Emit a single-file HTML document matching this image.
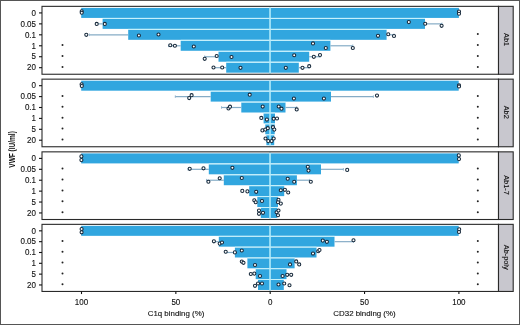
<!DOCTYPE html>
<html><head><meta charset="utf-8"><style>
html,body{margin:0;padding:0;background:#fff;width:520px;height:325px;overflow:hidden}
</style></head><body>
<svg width="520" height="325" viewBox="0 0 520 325" style="display:block;will-change:transform">
<rect x="0" y="0" width="520" height="325" fill="#fff"/>
<rect x="81.20" y="7.92" width="189.00" height="10.0" fill="#31a6df"/>
<rect x="270.20" y="7.92" width="188.70" height="10.0" fill="#31a6df"/>
<rect x="102.60" y="18.87" width="167.60" height="10.0" fill="#31a6df"/>
<rect x="270.20" y="18.87" width="154.80" height="10.0" fill="#31a6df"/>
<rect x="128.20" y="29.82" width="142.00" height="10.0" fill="#31a6df"/>
<rect x="270.20" y="29.82" width="116.40" height="10.0" fill="#31a6df"/>
<rect x="180.70" y="40.78" width="89.50" height="10.0" fill="#31a6df"/>
<rect x="270.20" y="40.78" width="60.20" height="10.0" fill="#31a6df"/>
<rect x="218.50" y="51.73" width="51.70" height="10.0" fill="#31a6df"/>
<rect x="270.20" y="51.73" width="39.00" height="10.0" fill="#31a6df"/>
<rect x="226.20" y="62.68" width="44.00" height="10.0" fill="#31a6df"/>
<rect x="270.20" y="62.68" width="28.60" height="10.0" fill="#31a6df"/>
<rect x="102.60" y="17.92" width="322.40" height="0.95" fill="#c2f1fc"/>
<rect x="128.20" y="28.87" width="258.40" height="0.95" fill="#c2f1fc"/>
<rect x="180.70" y="39.82" width="149.70" height="0.95" fill="#c2f1fc"/>
<rect x="218.50" y="50.78" width="90.70" height="0.95" fill="#c2f1fc"/>
<rect x="226.20" y="61.73" width="72.60" height="0.95" fill="#c2f1fc"/>
<line x1="270.0" y1="6.35" x2="270.0" y2="74.25" stroke="#b4ecfb" stroke-width="1.5"/>
<circle cx="81.70" cy="11.30" r="1.55" fill="#fff" stroke="#15283a" stroke-width="1.05"/>
<circle cx="81.70" cy="12.70" r="1.55" fill="#fff" stroke="#15283a" stroke-width="1.05"/>
<circle cx="459.00" cy="11.60" r="1.55" fill="#fff" stroke="#15283a" stroke-width="1.05"/>
<circle cx="459.00" cy="13.70" r="1.55" fill="#fff" stroke="#15283a" stroke-width="1.05"/>
<line x1="96.70" y1="23.87" x2="102.60" y2="23.87" stroke="#86acc6" stroke-width="1.2"/>
<line x1="96.70" y1="22.57" x2="96.70" y2="25.17" stroke="#86acc6" stroke-width="0.8"/>
<line x1="425.00" y1="23.87" x2="442.00" y2="23.87" stroke="#86acc6" stroke-width="1.2"/>
<line x1="442.00" y1="22.57" x2="442.00" y2="25.17" stroke="#86acc6" stroke-width="0.8"/>
<circle cx="96.70" cy="23.90" r="1.55" fill="#fff" stroke="#15283a" stroke-width="1.05"/>
<circle cx="104.80" cy="23.90" r="1.55" fill="#fff" stroke="#15283a" stroke-width="1.05"/>
<circle cx="408.80" cy="22.10" r="1.55" fill="#fff" stroke="#15283a" stroke-width="1.05"/>
<circle cx="425.20" cy="23.70" r="1.55" fill="#fff" stroke="#15283a" stroke-width="1.05"/>
<circle cx="441.60" cy="25.80" r="1.55" fill="#fff" stroke="#15283a" stroke-width="1.05"/>
<line x1="89.30" y1="34.82" x2="128.20" y2="34.82" stroke="#86acc6" stroke-width="1.2"/>
<line x1="89.30" y1="33.52" x2="89.30" y2="36.12" stroke="#86acc6" stroke-width="0.8"/>
<line x1="386.60" y1="34.82" x2="394.00" y2="34.82" stroke="#86acc6" stroke-width="1.2"/>
<line x1="394.00" y1="33.52" x2="394.00" y2="36.12" stroke="#86acc6" stroke-width="0.8"/>
<circle cx="86.30" cy="34.80" r="1.55" fill="#fff" stroke="#15283a" stroke-width="1.05"/>
<circle cx="138.90" cy="35.50" r="1.55" fill="#fff" stroke="#15283a" stroke-width="1.05"/>
<circle cx="158.50" cy="34.50" r="1.55" fill="#fff" stroke="#15283a" stroke-width="1.05"/>
<circle cx="378.00" cy="35.80" r="1.55" fill="#fff" stroke="#15283a" stroke-width="1.05"/>
<circle cx="388.25" cy="34.25" r="1.55" fill="#fff" stroke="#15283a" stroke-width="1.05"/>
<circle cx="394.00" cy="36.00" r="1.55" fill="#fff" stroke="#15283a" stroke-width="1.05"/>
<line x1="168.50" y1="45.78" x2="180.70" y2="45.78" stroke="#86acc6" stroke-width="1.2"/>
<line x1="168.50" y1="44.48" x2="168.50" y2="47.08" stroke="#86acc6" stroke-width="0.8"/>
<line x1="330.40" y1="45.78" x2="352.80" y2="45.78" stroke="#86acc6" stroke-width="1.2"/>
<line x1="352.80" y1="44.48" x2="352.80" y2="47.08" stroke="#86acc6" stroke-width="0.8"/>
<circle cx="170.30" cy="45.20" r="1.55" fill="#fff" stroke="#15283a" stroke-width="1.05"/>
<circle cx="174.90" cy="45.70" r="1.55" fill="#fff" stroke="#15283a" stroke-width="1.05"/>
<circle cx="193.80" cy="46.50" r="1.55" fill="#fff" stroke="#15283a" stroke-width="1.05"/>
<circle cx="313.00" cy="43.40" r="1.55" fill="#fff" stroke="#15283a" stroke-width="1.05"/>
<circle cx="325.80" cy="48.00" r="1.55" fill="#fff" stroke="#15283a" stroke-width="1.05"/>
<circle cx="352.80" cy="48.00" r="1.55" fill="#fff" stroke="#15283a" stroke-width="1.05"/>
<line x1="204.70" y1="56.73" x2="218.50" y2="56.73" stroke="#86acc6" stroke-width="1.2"/>
<line x1="204.70" y1="55.43" x2="204.70" y2="58.03" stroke="#86acc6" stroke-width="0.8"/>
<line x1="309.20" y1="56.73" x2="320.00" y2="56.73" stroke="#86acc6" stroke-width="1.2"/>
<line x1="320.00" y1="55.43" x2="320.00" y2="58.03" stroke="#86acc6" stroke-width="0.8"/>
<circle cx="204.70" cy="58.80" r="1.55" fill="#fff" stroke="#15283a" stroke-width="1.05"/>
<circle cx="216.70" cy="56.00" r="1.55" fill="#fff" stroke="#15283a" stroke-width="1.05"/>
<circle cx="231.50" cy="57.00" r="1.55" fill="#fff" stroke="#15283a" stroke-width="1.05"/>
<circle cx="294.20" cy="55.20" r="1.55" fill="#fff" stroke="#15283a" stroke-width="1.05"/>
<circle cx="313.80" cy="56.80" r="1.55" fill="#fff" stroke="#15283a" stroke-width="1.05"/>
<circle cx="320.00" cy="55.00" r="1.55" fill="#fff" stroke="#15283a" stroke-width="1.05"/>
<line x1="213.50" y1="67.68" x2="226.20" y2="67.68" stroke="#86acc6" stroke-width="1.2"/>
<line x1="213.50" y1="66.38" x2="213.50" y2="68.98" stroke="#86acc6" stroke-width="0.8"/>
<line x1="298.80" y1="67.68" x2="309.00" y2="67.68" stroke="#86acc6" stroke-width="1.2"/>
<line x1="309.00" y1="66.38" x2="309.00" y2="68.98" stroke="#86acc6" stroke-width="0.8"/>
<circle cx="213.50" cy="67.50" r="1.55" fill="#fff" stroke="#15283a" stroke-width="1.05"/>
<circle cx="222.20" cy="67.50" r="1.55" fill="#fff" stroke="#15283a" stroke-width="1.05"/>
<circle cx="240.50" cy="67.80" r="1.55" fill="#fff" stroke="#15283a" stroke-width="1.05"/>
<circle cx="285.80" cy="67.80" r="1.55" fill="#fff" stroke="#15283a" stroke-width="1.05"/>
<circle cx="302.50" cy="67.80" r="1.55" fill="#fff" stroke="#15283a" stroke-width="1.05"/>
<circle cx="309.20" cy="66.20" r="1.55" fill="#fff" stroke="#15283a" stroke-width="1.05"/>
<circle cx="62.5" cy="45.08" r="1.0" fill="#222"/>
<circle cx="62.5" cy="56.03" r="1.0" fill="#222"/>
<circle cx="62.5" cy="66.98" r="1.0" fill="#222"/>
<circle cx="477.8" cy="34.12" r="1.0" fill="#222"/>
<circle cx="477.8" cy="45.08" r="1.0" fill="#222"/>
<circle cx="477.8" cy="56.03" r="1.0" fill="#222"/>
<circle cx="477.8" cy="66.98" r="1.0" fill="#222"/>
<rect x="42.0" y="6.35" width="456.5" height="67.90" fill="none" stroke="#2a2a2a" stroke-width="1.1"/>
<rect x="498.5" y="6.35" width="14.70" height="67.90" fill="#c8c7ce" stroke="#2a2a2a" stroke-width="1.1"/>
<text x="0" y="0" transform="translate(503.6 39.60) rotate(90) scale(0.93 1)" text-anchor="middle" font-size="7.9" fill="#111" stroke="#111" stroke-width="0.12" font-family="Liberation Sans, sans-serif">Ab1</text>
<line x1="39" y1="12.92" x2="42.0" y2="12.92" stroke="#111" stroke-width="1.1"/>
<text x="0" y="0" transform="translate(36 15.67) scale(0.89 1)" text-anchor="end" font-size="9" fill="#111" stroke="#111" stroke-width="0.12" font-family="Liberation Sans, sans-serif">0</text>
<line x1="39" y1="23.87" x2="42.0" y2="23.87" stroke="#111" stroke-width="1.1"/>
<text x="0" y="0" transform="translate(36 26.62) scale(0.89 1)" text-anchor="end" font-size="9" fill="#111" stroke="#111" stroke-width="0.12" font-family="Liberation Sans, sans-serif">0.05</text>
<line x1="39" y1="34.82" x2="42.0" y2="34.82" stroke="#111" stroke-width="1.1"/>
<text x="0" y="0" transform="translate(36 37.57) scale(0.89 1)" text-anchor="end" font-size="9" fill="#111" stroke="#111" stroke-width="0.12" font-family="Liberation Sans, sans-serif">0.1</text>
<line x1="39" y1="45.78" x2="42.0" y2="45.78" stroke="#111" stroke-width="1.1"/>
<text x="0" y="0" transform="translate(36 48.53) scale(0.89 1)" text-anchor="end" font-size="9" fill="#111" stroke="#111" stroke-width="0.12" font-family="Liberation Sans, sans-serif">1</text>
<line x1="39" y1="56.73" x2="42.0" y2="56.73" stroke="#111" stroke-width="1.1"/>
<text x="0" y="0" transform="translate(36 59.48) scale(0.89 1)" text-anchor="end" font-size="9" fill="#111" stroke="#111" stroke-width="0.12" font-family="Liberation Sans, sans-serif">5</text>
<line x1="39" y1="67.68" x2="42.0" y2="67.68" stroke="#111" stroke-width="1.1"/>
<text x="0" y="0" transform="translate(36 70.43) scale(0.89 1)" text-anchor="end" font-size="9" fill="#111" stroke="#111" stroke-width="0.12" font-family="Liberation Sans, sans-serif">20</text>
<rect x="81.20" y="80.69" width="189.00" height="10.0" fill="#31a6df"/>
<rect x="270.20" y="80.69" width="188.50" height="10.0" fill="#31a6df"/>
<rect x="210.70" y="91.60" width="59.50" height="10.0" fill="#31a6df"/>
<rect x="270.20" y="91.60" width="60.80" height="10.0" fill="#31a6df"/>
<rect x="241.30" y="102.50" width="28.90" height="10.0" fill="#31a6df"/>
<rect x="270.20" y="102.50" width="15.30" height="10.0" fill="#31a6df"/>
<rect x="263.60" y="113.40" width="6.60" height="10.0" fill="#31a6df"/>
<rect x="270.20" y="113.40" width="4.80" height="10.0" fill="#31a6df"/>
<rect x="265.30" y="124.30" width="4.90" height="10.0" fill="#31a6df"/>
<rect x="270.20" y="124.30" width="4.50" height="10.0" fill="#31a6df"/>
<rect x="266.40" y="135.21" width="3.80" height="10.0" fill="#31a6df"/>
<rect x="270.20" y="135.21" width="4.00" height="10.0" fill="#31a6df"/>
<rect x="210.70" y="90.69" width="120.30" height="0.90" fill="#c2f1fc"/>
<rect x="241.30" y="101.60" width="44.20" height="0.90" fill="#c2f1fc"/>
<rect x="263.60" y="112.50" width="11.40" height="0.90" fill="#c2f1fc"/>
<rect x="265.30" y="123.40" width="9.40" height="0.90" fill="#c2f1fc"/>
<rect x="266.40" y="134.30" width="7.80" height="0.90" fill="#c2f1fc"/>
<line x1="270.0" y1="79.15" x2="270.0" y2="146.75" stroke="#b4ecfb" stroke-width="1.5"/>
<circle cx="81.60" cy="84.30" r="1.55" fill="#fff" stroke="#15283a" stroke-width="1.05"/>
<circle cx="81.80" cy="86.00" r="1.55" fill="#fff" stroke="#15283a" stroke-width="1.05"/>
<circle cx="459.00" cy="85.30" r="1.55" fill="#fff" stroke="#15283a" stroke-width="1.05"/>
<circle cx="459.00" cy="86.40" r="1.55" fill="#fff" stroke="#15283a" stroke-width="1.05"/>
<line x1="175.30" y1="96.60" x2="210.70" y2="96.60" stroke="#86acc6" stroke-width="1.2"/>
<line x1="175.30" y1="95.30" x2="175.30" y2="97.90" stroke="#86acc6" stroke-width="0.8"/>
<line x1="331.00" y1="96.60" x2="373.40" y2="96.60" stroke="#86acc6" stroke-width="1.2"/>
<line x1="373.40" y1="95.30" x2="373.40" y2="97.90" stroke="#86acc6" stroke-width="0.8"/>
<circle cx="191.60" cy="95.20" r="1.55" fill="#fff" stroke="#15283a" stroke-width="1.05"/>
<circle cx="189.20" cy="98.10" r="1.55" fill="#fff" stroke="#15283a" stroke-width="1.05"/>
<circle cx="249.70" cy="94.70" r="1.55" fill="#fff" stroke="#15283a" stroke-width="1.05"/>
<circle cx="293.90" cy="98.60" r="1.55" fill="#fff" stroke="#15283a" stroke-width="1.05"/>
<circle cx="323.90" cy="98.60" r="1.55" fill="#fff" stroke="#15283a" stroke-width="1.05"/>
<circle cx="377.00" cy="95.60" r="1.55" fill="#fff" stroke="#15283a" stroke-width="1.05"/>
<line x1="221.50" y1="107.50" x2="241.30" y2="107.50" stroke="#86acc6" stroke-width="1.2"/>
<line x1="221.50" y1="106.20" x2="221.50" y2="108.80" stroke="#86acc6" stroke-width="0.8"/>
<line x1="285.50" y1="107.50" x2="296.70" y2="107.50" stroke="#86acc6" stroke-width="1.2"/>
<line x1="296.70" y1="106.20" x2="296.70" y2="108.80" stroke="#86acc6" stroke-width="0.8"/>
<circle cx="228.50" cy="108.50" r="1.55" fill="#fff" stroke="#15283a" stroke-width="1.05"/>
<circle cx="230.00" cy="106.70" r="1.55" fill="#fff" stroke="#15283a" stroke-width="1.05"/>
<circle cx="262.70" cy="106.60" r="1.55" fill="#fff" stroke="#15283a" stroke-width="1.05"/>
<circle cx="278.70" cy="106.50" r="1.55" fill="#fff" stroke="#15283a" stroke-width="1.05"/>
<circle cx="281.50" cy="108.70" r="1.55" fill="#fff" stroke="#15283a" stroke-width="1.05"/>
<circle cx="296.70" cy="109.40" r="1.55" fill="#fff" stroke="#15283a" stroke-width="1.05"/>
<circle cx="261.30" cy="117.90" r="1.55" fill="#fff" stroke="#15283a" stroke-width="1.05"/>
<circle cx="266.90" cy="119.60" r="1.55" fill="#fff" stroke="#15283a" stroke-width="1.05"/>
<circle cx="273.70" cy="118.70" r="1.55" fill="#fff" stroke="#15283a" stroke-width="1.05"/>
<circle cx="277.00" cy="118.50" r="1.55" fill="#fff" stroke="#15283a" stroke-width="1.05"/>
<circle cx="262.40" cy="130.40" r="1.55" fill="#fff" stroke="#15283a" stroke-width="1.05"/>
<circle cx="265.30" cy="129.60" r="1.55" fill="#fff" stroke="#15283a" stroke-width="1.05"/>
<circle cx="267.80" cy="128.20" r="1.55" fill="#fff" stroke="#15283a" stroke-width="1.05"/>
<circle cx="273.00" cy="127.20" r="1.55" fill="#fff" stroke="#15283a" stroke-width="1.05"/>
<circle cx="274.30" cy="129.60" r="1.55" fill="#fff" stroke="#15283a" stroke-width="1.05"/>
<circle cx="265.50" cy="138.50" r="1.55" fill="#fff" stroke="#15283a" stroke-width="1.05"/>
<circle cx="268.30" cy="141.10" r="1.55" fill="#fff" stroke="#15283a" stroke-width="1.05"/>
<circle cx="271.60" cy="141.10" r="1.55" fill="#fff" stroke="#15283a" stroke-width="1.05"/>
<circle cx="273.70" cy="138.50" r="1.55" fill="#fff" stroke="#15283a" stroke-width="1.05"/>
<circle cx="62.5" cy="95.90" r="1.0" fill="#222"/>
<circle cx="62.5" cy="106.80" r="1.0" fill="#222"/>
<circle cx="62.5" cy="117.70" r="1.0" fill="#222"/>
<circle cx="62.5" cy="128.60" r="1.0" fill="#222"/>
<circle cx="62.5" cy="139.51" r="1.0" fill="#222"/>
<circle cx="477.8" cy="95.90" r="1.0" fill="#222"/>
<circle cx="477.8" cy="106.80" r="1.0" fill="#222"/>
<circle cx="477.8" cy="117.70" r="1.0" fill="#222"/>
<circle cx="477.8" cy="128.60" r="1.0" fill="#222"/>
<circle cx="477.8" cy="139.51" r="1.0" fill="#222"/>
<rect x="42.0" y="79.15" width="456.5" height="67.60" fill="none" stroke="#2a2a2a" stroke-width="1.1"/>
<rect x="498.5" y="79.15" width="14.70" height="67.60" fill="#c8c7ce" stroke="#2a2a2a" stroke-width="1.1"/>
<text x="0" y="0" transform="translate(503.6 112.25) rotate(90) scale(0.93 1)" text-anchor="middle" font-size="7.9" fill="#111" stroke="#111" stroke-width="0.12" font-family="Liberation Sans, sans-serif">Ab2</text>
<line x1="39" y1="85.69" x2="42.0" y2="85.69" stroke="#111" stroke-width="1.1"/>
<text x="0" y="0" transform="translate(36 88.44) scale(0.89 1)" text-anchor="end" font-size="9" fill="#111" stroke="#111" stroke-width="0.12" font-family="Liberation Sans, sans-serif">0</text>
<line x1="39" y1="96.60" x2="42.0" y2="96.60" stroke="#111" stroke-width="1.1"/>
<text x="0" y="0" transform="translate(36 99.35) scale(0.89 1)" text-anchor="end" font-size="9" fill="#111" stroke="#111" stroke-width="0.12" font-family="Liberation Sans, sans-serif">0.05</text>
<line x1="39" y1="107.50" x2="42.0" y2="107.50" stroke="#111" stroke-width="1.1"/>
<text x="0" y="0" transform="translate(36 110.25) scale(0.89 1)" text-anchor="end" font-size="9" fill="#111" stroke="#111" stroke-width="0.12" font-family="Liberation Sans, sans-serif">0.1</text>
<line x1="39" y1="118.40" x2="42.0" y2="118.40" stroke="#111" stroke-width="1.1"/>
<text x="0" y="0" transform="translate(36 121.15) scale(0.89 1)" text-anchor="end" font-size="9" fill="#111" stroke="#111" stroke-width="0.12" font-family="Liberation Sans, sans-serif">1</text>
<line x1="39" y1="129.30" x2="42.0" y2="129.30" stroke="#111" stroke-width="1.1"/>
<text x="0" y="0" transform="translate(36 132.05) scale(0.89 1)" text-anchor="end" font-size="9" fill="#111" stroke="#111" stroke-width="0.12" font-family="Liberation Sans, sans-serif">5</text>
<line x1="39" y1="140.21" x2="42.0" y2="140.21" stroke="#111" stroke-width="1.1"/>
<text x="0" y="0" transform="translate(36 142.96) scale(0.89 1)" text-anchor="end" font-size="9" fill="#111" stroke="#111" stroke-width="0.12" font-family="Liberation Sans, sans-serif">20</text>
<rect x="81.20" y="153.40" width="189.00" height="10.0" fill="#31a6df"/>
<rect x="270.20" y="153.40" width="188.50" height="10.0" fill="#31a6df"/>
<rect x="208.80" y="164.31" width="61.40" height="10.0" fill="#31a6df"/>
<rect x="270.20" y="164.31" width="50.80" height="10.0" fill="#31a6df"/>
<rect x="223.80" y="175.22" width="46.40" height="10.0" fill="#31a6df"/>
<rect x="270.20" y="175.22" width="26.70" height="10.0" fill="#31a6df"/>
<rect x="249.20" y="186.13" width="21.00" height="10.0" fill="#31a6df"/>
<rect x="270.20" y="186.13" width="14.00" height="10.0" fill="#31a6df"/>
<rect x="257.30" y="197.04" width="12.90" height="10.0" fill="#31a6df"/>
<rect x="270.20" y="197.04" width="7.80" height="10.0" fill="#31a6df"/>
<rect x="260.80" y="207.95" width="9.40" height="10.0" fill="#31a6df"/>
<rect x="270.20" y="207.95" width="7.10" height="10.0" fill="#31a6df"/>
<rect x="208.80" y="163.40" width="112.20" height="0.91" fill="#c2f1fc"/>
<rect x="223.80" y="174.31" width="73.10" height="0.91" fill="#c2f1fc"/>
<rect x="249.20" y="185.22" width="35.00" height="0.91" fill="#c2f1fc"/>
<rect x="257.30" y="196.13" width="20.70" height="0.91" fill="#c2f1fc"/>
<rect x="260.80" y="207.04" width="16.50" height="0.91" fill="#c2f1fc"/>
<line x1="270.0" y1="151.85" x2="270.0" y2="219.5" stroke="#b4ecfb" stroke-width="1.5"/>
<circle cx="81.40" cy="156.40" r="1.55" fill="#fff" stroke="#15283a" stroke-width="1.05"/>
<circle cx="81.40" cy="160.10" r="1.55" fill="#fff" stroke="#15283a" stroke-width="1.05"/>
<circle cx="458.80" cy="155.40" r="1.55" fill="#fff" stroke="#15283a" stroke-width="1.05"/>
<circle cx="459.00" cy="159.10" r="1.55" fill="#fff" stroke="#15283a" stroke-width="1.05"/>
<line x1="188.00" y1="169.31" x2="208.80" y2="169.31" stroke="#86acc6" stroke-width="1.2"/>
<line x1="188.00" y1="168.01" x2="188.00" y2="170.61" stroke="#86acc6" stroke-width="0.8"/>
<line x1="321.00" y1="169.31" x2="343.40" y2="169.31" stroke="#86acc6" stroke-width="1.2"/>
<line x1="343.40" y1="168.01" x2="343.40" y2="170.61" stroke="#86acc6" stroke-width="0.8"/>
<circle cx="189.70" cy="168.80" r="1.55" fill="#fff" stroke="#15283a" stroke-width="1.05"/>
<circle cx="203.50" cy="168.30" r="1.55" fill="#fff" stroke="#15283a" stroke-width="1.05"/>
<circle cx="232.40" cy="167.80" r="1.55" fill="#fff" stroke="#15283a" stroke-width="1.05"/>
<circle cx="307.80" cy="166.70" r="1.55" fill="#fff" stroke="#15283a" stroke-width="1.05"/>
<circle cx="308.50" cy="170.60" r="1.55" fill="#fff" stroke="#15283a" stroke-width="1.05"/>
<circle cx="347.20" cy="169.90" r="1.55" fill="#fff" stroke="#15283a" stroke-width="1.05"/>
<line x1="206.50" y1="180.22" x2="223.80" y2="180.22" stroke="#86acc6" stroke-width="1.2"/>
<line x1="206.50" y1="178.92" x2="206.50" y2="181.52" stroke="#86acc6" stroke-width="0.8"/>
<line x1="296.90" y1="180.22" x2="309.60" y2="180.22" stroke="#86acc6" stroke-width="1.2"/>
<line x1="309.60" y1="178.92" x2="309.60" y2="181.52" stroke="#86acc6" stroke-width="0.8"/>
<circle cx="208.40" cy="181.70" r="1.55" fill="#fff" stroke="#15283a" stroke-width="1.05"/>
<circle cx="219.70" cy="178.20" r="1.55" fill="#fff" stroke="#15283a" stroke-width="1.05"/>
<circle cx="241.80" cy="178.00" r="1.55" fill="#fff" stroke="#15283a" stroke-width="1.05"/>
<circle cx="287.70" cy="178.70" r="1.55" fill="#fff" stroke="#15283a" stroke-width="1.05"/>
<circle cx="294.20" cy="181.70" r="1.55" fill="#fff" stroke="#15283a" stroke-width="1.05"/>
<circle cx="310.80" cy="181.70" r="1.55" fill="#fff" stroke="#15283a" stroke-width="1.05"/>
<circle cx="242.30" cy="190.90" r="1.55" fill="#fff" stroke="#15283a" stroke-width="1.05"/>
<circle cx="247.40" cy="191.40" r="1.55" fill="#fff" stroke="#15283a" stroke-width="1.05"/>
<circle cx="256.20" cy="191.80" r="1.55" fill="#fff" stroke="#15283a" stroke-width="1.05"/>
<circle cx="280.80" cy="190.20" r="1.55" fill="#fff" stroke="#15283a" stroke-width="1.05"/>
<circle cx="284.90" cy="189.80" r="1.55" fill="#fff" stroke="#15283a" stroke-width="1.05"/>
<circle cx="288.20" cy="192.50" r="1.55" fill="#fff" stroke="#15283a" stroke-width="1.05"/>
<circle cx="254.30" cy="200.20" r="1.55" fill="#fff" stroke="#15283a" stroke-width="1.05"/>
<circle cx="255.70" cy="202.20" r="1.55" fill="#fff" stroke="#15283a" stroke-width="1.05"/>
<circle cx="262.00" cy="201.00" r="1.55" fill="#fff" stroke="#15283a" stroke-width="1.05"/>
<circle cx="278.50" cy="199.90" r="1.55" fill="#fff" stroke="#15283a" stroke-width="1.05"/>
<circle cx="280.80" cy="203.60" r="1.55" fill="#fff" stroke="#15283a" stroke-width="1.05"/>
<circle cx="278.00" cy="202.20" r="1.55" fill="#fff" stroke="#15283a" stroke-width="1.05"/>
<circle cx="259.00" cy="210.50" r="1.55" fill="#fff" stroke="#15283a" stroke-width="1.05"/>
<circle cx="259.00" cy="213.80" r="1.55" fill="#fff" stroke="#15283a" stroke-width="1.05"/>
<circle cx="263.00" cy="212.80" r="1.55" fill="#fff" stroke="#15283a" stroke-width="1.05"/>
<circle cx="276.60" cy="212.20" r="1.55" fill="#fff" stroke="#15283a" stroke-width="1.05"/>
<circle cx="278.50" cy="210.50" r="1.55" fill="#fff" stroke="#15283a" stroke-width="1.05"/>
<circle cx="278.00" cy="215.20" r="1.55" fill="#fff" stroke="#15283a" stroke-width="1.05"/>
<circle cx="62.5" cy="168.61" r="1.0" fill="#222"/>
<circle cx="62.5" cy="179.52" r="1.0" fill="#222"/>
<circle cx="62.5" cy="190.43" r="1.0" fill="#222"/>
<circle cx="62.5" cy="201.34" r="1.0" fill="#222"/>
<circle cx="62.5" cy="212.25" r="1.0" fill="#222"/>
<circle cx="477.8" cy="168.61" r="1.0" fill="#222"/>
<circle cx="477.8" cy="179.52" r="1.0" fill="#222"/>
<circle cx="477.8" cy="190.43" r="1.0" fill="#222"/>
<circle cx="477.8" cy="201.34" r="1.0" fill="#222"/>
<circle cx="477.8" cy="212.25" r="1.0" fill="#222"/>
<rect x="42.0" y="151.85" width="456.5" height="67.65" fill="none" stroke="#2a2a2a" stroke-width="1.1"/>
<rect x="498.5" y="151.85" width="14.70" height="67.65" fill="#c8c7ce" stroke="#2a2a2a" stroke-width="1.1"/>
<text x="0" y="0" transform="translate(503.6 184.98) rotate(90) scale(0.93 1)" text-anchor="middle" font-size="7.9" fill="#111" stroke="#111" stroke-width="0.12" font-family="Liberation Sans, sans-serif">Ab1-7</text>
<line x1="39" y1="158.40" x2="42.0" y2="158.40" stroke="#111" stroke-width="1.1"/>
<text x="0" y="0" transform="translate(36 161.15) scale(0.89 1)" text-anchor="end" font-size="9" fill="#111" stroke="#111" stroke-width="0.12" font-family="Liberation Sans, sans-serif">0</text>
<line x1="39" y1="169.31" x2="42.0" y2="169.31" stroke="#111" stroke-width="1.1"/>
<text x="0" y="0" transform="translate(36 172.06) scale(0.89 1)" text-anchor="end" font-size="9" fill="#111" stroke="#111" stroke-width="0.12" font-family="Liberation Sans, sans-serif">0.05</text>
<line x1="39" y1="180.22" x2="42.0" y2="180.22" stroke="#111" stroke-width="1.1"/>
<text x="0" y="0" transform="translate(36 182.97) scale(0.89 1)" text-anchor="end" font-size="9" fill="#111" stroke="#111" stroke-width="0.12" font-family="Liberation Sans, sans-serif">0.1</text>
<line x1="39" y1="191.13" x2="42.0" y2="191.13" stroke="#111" stroke-width="1.1"/>
<text x="0" y="0" transform="translate(36 193.88) scale(0.89 1)" text-anchor="end" font-size="9" fill="#111" stroke="#111" stroke-width="0.12" font-family="Liberation Sans, sans-serif">1</text>
<line x1="39" y1="202.04" x2="42.0" y2="202.04" stroke="#111" stroke-width="1.1"/>
<text x="0" y="0" transform="translate(36 204.79) scale(0.89 1)" text-anchor="end" font-size="9" fill="#111" stroke="#111" stroke-width="0.12" font-family="Liberation Sans, sans-serif">5</text>
<line x1="39" y1="212.95" x2="42.0" y2="212.95" stroke="#111" stroke-width="1.1"/>
<text x="0" y="0" transform="translate(36 215.70) scale(0.89 1)" text-anchor="end" font-size="9" fill="#111" stroke="#111" stroke-width="0.12" font-family="Liberation Sans, sans-serif">20</text>
<rect x="81.20" y="225.84" width="189.00" height="10.0" fill="#31a6df"/>
<rect x="270.20" y="225.84" width="188.50" height="10.0" fill="#31a6df"/>
<rect x="218.80" y="236.67" width="51.40" height="10.0" fill="#31a6df"/>
<rect x="270.20" y="236.67" width="64.30" height="10.0" fill="#31a6df"/>
<rect x="234.90" y="247.49" width="35.30" height="10.0" fill="#31a6df"/>
<rect x="270.20" y="247.49" width="46.30" height="10.0" fill="#31a6df"/>
<rect x="247.40" y="258.31" width="22.80" height="10.0" fill="#31a6df"/>
<rect x="270.20" y="258.31" width="24.40" height="10.0" fill="#31a6df"/>
<rect x="255.70" y="269.13" width="14.50" height="10.0" fill="#31a6df"/>
<rect x="270.20" y="269.13" width="16.30" height="10.0" fill="#31a6df"/>
<rect x="258.00" y="279.96" width="12.20" height="10.0" fill="#31a6df"/>
<rect x="270.20" y="279.96" width="13.60" height="10.0" fill="#31a6df"/>
<rect x="218.80" y="235.84" width="115.70" height="0.82" fill="#c2f1fc"/>
<rect x="234.90" y="246.67" width="81.60" height="0.82" fill="#c2f1fc"/>
<rect x="247.40" y="257.49" width="47.20" height="0.82" fill="#c2f1fc"/>
<rect x="255.70" y="268.31" width="30.80" height="0.82" fill="#c2f1fc"/>
<rect x="258.00" y="279.13" width="25.80" height="0.82" fill="#c2f1fc"/>
<line x1="270.0" y1="224.35" x2="270.0" y2="291.45" stroke="#b4ecfb" stroke-width="1.5"/>
<circle cx="81.60" cy="229.00" r="1.55" fill="#fff" stroke="#15283a" stroke-width="1.05"/>
<circle cx="81.60" cy="232.30" r="1.55" fill="#fff" stroke="#15283a" stroke-width="1.05"/>
<circle cx="459.20" cy="229.20" r="1.55" fill="#fff" stroke="#15283a" stroke-width="1.05"/>
<circle cx="459.00" cy="232.00" r="1.55" fill="#fff" stroke="#15283a" stroke-width="1.05"/>
<line x1="213.90" y1="241.67" x2="218.80" y2="241.67" stroke="#86acc6" stroke-width="1.2"/>
<line x1="213.90" y1="240.37" x2="213.90" y2="242.97" stroke="#86acc6" stroke-width="0.8"/>
<line x1="334.50" y1="241.67" x2="353.50" y2="241.67" stroke="#86acc6" stroke-width="1.2"/>
<line x1="353.50" y1="240.37" x2="353.50" y2="242.97" stroke="#86acc6" stroke-width="0.8"/>
<circle cx="213.90" cy="241.30" r="1.55" fill="#fff" stroke="#15283a" stroke-width="1.05"/>
<circle cx="219.70" cy="243.60" r="1.55" fill="#fff" stroke="#15283a" stroke-width="1.05"/>
<circle cx="222.00" cy="242.50" r="1.55" fill="#fff" stroke="#15283a" stroke-width="1.05"/>
<circle cx="322.80" cy="240.60" r="1.55" fill="#fff" stroke="#15283a" stroke-width="1.05"/>
<circle cx="326.90" cy="241.80" r="1.55" fill="#fff" stroke="#15283a" stroke-width="1.05"/>
<circle cx="353.50" cy="240.20" r="1.55" fill="#fff" stroke="#15283a" stroke-width="1.05"/>
<line x1="225.70" y1="252.49" x2="234.90" y2="252.49" stroke="#86acc6" stroke-width="1.2"/>
<line x1="225.70" y1="251.19" x2="225.70" y2="253.79" stroke="#86acc6" stroke-width="0.8"/>
<circle cx="225.70" cy="251.70" r="1.55" fill="#fff" stroke="#15283a" stroke-width="1.05"/>
<circle cx="234.90" cy="252.40" r="1.55" fill="#fff" stroke="#15283a" stroke-width="1.05"/>
<circle cx="241.80" cy="250.50" r="1.55" fill="#fff" stroke="#15283a" stroke-width="1.05"/>
<circle cx="313.00" cy="253.50" r="1.55" fill="#fff" stroke="#15283a" stroke-width="1.05"/>
<circle cx="318.20" cy="251.20" r="1.55" fill="#fff" stroke="#15283a" stroke-width="1.05"/>
<circle cx="319.50" cy="250.00" r="1.55" fill="#fff" stroke="#15283a" stroke-width="1.05"/>
<circle cx="241.80" cy="261.60" r="1.55" fill="#fff" stroke="#15283a" stroke-width="1.05"/>
<circle cx="243.50" cy="262.80" r="1.55" fill="#fff" stroke="#15283a" stroke-width="1.05"/>
<circle cx="255.00" cy="265.00" r="1.55" fill="#fff" stroke="#15283a" stroke-width="1.05"/>
<circle cx="290.00" cy="264.40" r="1.55" fill="#fff" stroke="#15283a" stroke-width="1.05"/>
<circle cx="296.20" cy="261.40" r="1.55" fill="#fff" stroke="#15283a" stroke-width="1.05"/>
<circle cx="299.20" cy="264.40" r="1.55" fill="#fff" stroke="#15283a" stroke-width="1.05"/>
<circle cx="250.80" cy="274.00" r="1.55" fill="#fff" stroke="#15283a" stroke-width="1.05"/>
<circle cx="254.30" cy="273.60" r="1.55" fill="#fff" stroke="#15283a" stroke-width="1.05"/>
<circle cx="260.00" cy="276.00" r="1.55" fill="#fff" stroke="#15283a" stroke-width="1.05"/>
<circle cx="282.60" cy="276.00" r="1.55" fill="#fff" stroke="#15283a" stroke-width="1.05"/>
<circle cx="287.20" cy="274.80" r="1.55" fill="#fff" stroke="#15283a" stroke-width="1.05"/>
<circle cx="291.20" cy="274.80" r="1.55" fill="#fff" stroke="#15283a" stroke-width="1.05"/>
<circle cx="255.00" cy="285.80" r="1.55" fill="#fff" stroke="#15283a" stroke-width="1.05"/>
<circle cx="258.00" cy="283.50" r="1.55" fill="#fff" stroke="#15283a" stroke-width="1.05"/>
<circle cx="262.00" cy="283.50" r="1.55" fill="#fff" stroke="#15283a" stroke-width="1.05"/>
<circle cx="278.50" cy="284.50" r="1.55" fill="#fff" stroke="#15283a" stroke-width="1.05"/>
<circle cx="284.20" cy="283.50" r="1.55" fill="#fff" stroke="#15283a" stroke-width="1.05"/>
<circle cx="289.50" cy="285.20" r="1.55" fill="#fff" stroke="#15283a" stroke-width="1.05"/>
<circle cx="62.5" cy="240.97" r="1.0" fill="#222"/>
<circle cx="62.5" cy="251.79" r="1.0" fill="#222"/>
<circle cx="62.5" cy="262.61" r="1.0" fill="#222"/>
<circle cx="62.5" cy="273.43" r="1.0" fill="#222"/>
<circle cx="62.5" cy="284.26" r="1.0" fill="#222"/>
<circle cx="477.8" cy="240.97" r="1.0" fill="#222"/>
<circle cx="477.8" cy="251.79" r="1.0" fill="#222"/>
<circle cx="477.8" cy="262.61" r="1.0" fill="#222"/>
<circle cx="477.8" cy="273.43" r="1.0" fill="#222"/>
<circle cx="477.8" cy="284.26" r="1.0" fill="#222"/>
<rect x="42.0" y="224.35" width="456.5" height="67.10" fill="none" stroke="#2a2a2a" stroke-width="1.1"/>
<rect x="498.5" y="224.35" width="14.70" height="67.10" fill="#c8c7ce" stroke="#2a2a2a" stroke-width="1.1"/>
<text x="0" y="0" transform="translate(503.6 257.20) rotate(90) scale(0.93 1)" text-anchor="middle" font-size="7.9" fill="#111" stroke="#111" stroke-width="0.12" font-family="Liberation Sans, sans-serif">Ab-poly</text>
<line x1="39" y1="230.84" x2="42.0" y2="230.84" stroke="#111" stroke-width="1.1"/>
<text x="0" y="0" transform="translate(36 233.59) scale(0.89 1)" text-anchor="end" font-size="9" fill="#111" stroke="#111" stroke-width="0.12" font-family="Liberation Sans, sans-serif">0</text>
<line x1="39" y1="241.67" x2="42.0" y2="241.67" stroke="#111" stroke-width="1.1"/>
<text x="0" y="0" transform="translate(36 244.42) scale(0.89 1)" text-anchor="end" font-size="9" fill="#111" stroke="#111" stroke-width="0.12" font-family="Liberation Sans, sans-serif">0.05</text>
<line x1="39" y1="252.49" x2="42.0" y2="252.49" stroke="#111" stroke-width="1.1"/>
<text x="0" y="0" transform="translate(36 255.24) scale(0.89 1)" text-anchor="end" font-size="9" fill="#111" stroke="#111" stroke-width="0.12" font-family="Liberation Sans, sans-serif">0.1</text>
<line x1="39" y1="263.31" x2="42.0" y2="263.31" stroke="#111" stroke-width="1.1"/>
<text x="0" y="0" transform="translate(36 266.06) scale(0.89 1)" text-anchor="end" font-size="9" fill="#111" stroke="#111" stroke-width="0.12" font-family="Liberation Sans, sans-serif">1</text>
<line x1="39" y1="274.13" x2="42.0" y2="274.13" stroke="#111" stroke-width="1.1"/>
<text x="0" y="0" transform="translate(36 276.88) scale(0.89 1)" text-anchor="end" font-size="9" fill="#111" stroke="#111" stroke-width="0.12" font-family="Liberation Sans, sans-serif">5</text>
<line x1="39" y1="284.96" x2="42.0" y2="284.96" stroke="#111" stroke-width="1.1"/>
<text x="0" y="0" transform="translate(36 287.71) scale(0.89 1)" text-anchor="end" font-size="9" fill="#111" stroke="#111" stroke-width="0.12" font-family="Liberation Sans, sans-serif">20</text>
<line x1="81.50" y1="291.45" x2="81.50" y2="294.05" stroke="#111" stroke-width="1.1"/>
<text x="0" y="0" transform="translate(81.50 304.95) scale(0.89 1)" text-anchor="middle" font-size="9" fill="#111" stroke="#111" stroke-width="0.12" font-family="Liberation Sans, sans-serif">100</text>
<line x1="175.85" y1="291.45" x2="175.85" y2="294.05" stroke="#111" stroke-width="1.1"/>
<text x="0" y="0" transform="translate(175.85 304.95) scale(0.89 1)" text-anchor="middle" font-size="9" fill="#111" stroke="#111" stroke-width="0.12" font-family="Liberation Sans, sans-serif">50</text>
<line x1="270.20" y1="291.45" x2="270.20" y2="294.05" stroke="#111" stroke-width="1.1"/>
<text x="0" y="0" transform="translate(270.20 304.95) scale(0.89 1)" text-anchor="middle" font-size="9" fill="#111" stroke="#111" stroke-width="0.12" font-family="Liberation Sans, sans-serif">0</text>
<line x1="364.55" y1="291.45" x2="364.55" y2="294.05" stroke="#111" stroke-width="1.1"/>
<text x="0" y="0" transform="translate(364.55 304.95) scale(0.89 1)" text-anchor="middle" font-size="9" fill="#111" stroke="#111" stroke-width="0.12" font-family="Liberation Sans, sans-serif">50</text>
<line x1="458.90" y1="291.45" x2="458.90" y2="294.05" stroke="#111" stroke-width="1.1"/>
<text x="0" y="0" transform="translate(458.90 304.95) scale(0.89 1)" text-anchor="middle" font-size="9" fill="#111" stroke="#111" stroke-width="0.12" font-family="Liberation Sans, sans-serif">100</text>
<text x="176" y="315.9" text-anchor="middle" font-size="7.9" fill="#111" stroke="#111" stroke-width="0.12" font-family="Liberation Sans, sans-serif">C1q binding (%)</text>
<text x="364.5" y="315.9" text-anchor="middle" font-size="7.9" fill="#111" stroke="#111" stroke-width="0.12" font-family="Liberation Sans, sans-serif">CD32 binding (%)</text>
<text x="0" y="0" transform="translate(14.6 149.4) rotate(-90) scale(0.74 1)" text-anchor="middle" font-size="8.8" font-weight="bold" fill="#111" font-family="Liberation Sans, sans-serif">VWF (IU/ml)</text>
<rect x="0.5" y="0.5" width="519" height="324" fill="none" stroke="#555" stroke-width="1"/>
</svg>
</body></html>
